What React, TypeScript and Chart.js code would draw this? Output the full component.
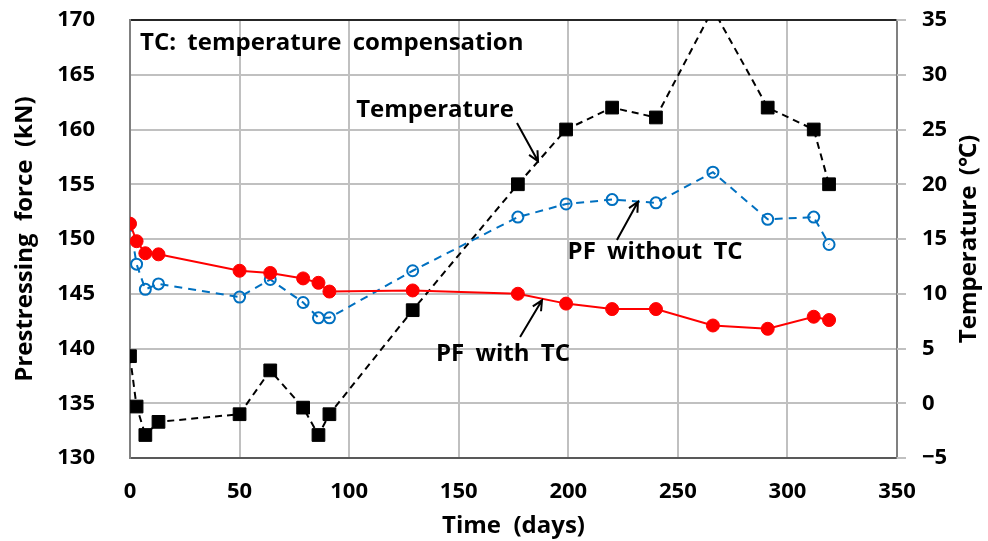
import React, { useEffect, useRef } from 'react';
import { Chart, registerables } from 'chart.js';

Chart.register(...registerables);

// ---- data ----
const days = [0, 3, 7, 13, 50, 64, 79, 86, 91, 129, 177, 199, 220, 240, 266, 291, 312, 319];
const pfWithTC = [151.4, 149.8, 148.7, 148.6, 147.1, 146.9, 146.4, 146.0, 145.2, 145.3, 145.0, 144.1, 143.6, 143.6, 142.1, 141.8, 142.9, 142.6];
const pfWithoutTC = [151.4, 147.7, 145.4, 145.9, 144.7, 146.3, 144.2, 142.8, 142.8, 147.1, 152.0, 153.2, 153.6, 153.3, 156.1, 151.8, 152.0, 149.5];
const temperature = [4.3, -0.3, -2.9, -1.7, -1.0, 3.0, -0.4, -2.9, -1.0, 8.5, 20.0, 25.0, 27.0, 26.1, 36.0, 27.0, 25.0, 20.0];

const xTicks = { min: 0, max: 350, step: 50 };
const yTicks = { min: 130, max: 170, step: 5 };
const y2Ticks = { min: -5, max: 35, step: 5 };

// annotation texts and arrows, in data coordinates (days, kN)
const noteTexts = ['TC: temperature compensation', 'Temperature', 'PF without TC', 'PF with TC'];
const notePos = [
  { x: 4.6, y: 167.9, align: 'left' },
  { x: 139.2, y: 161.8, align: 'center' },
  { x: 239.6, y: 148.8, align: 'center' },
  { x: 170.2, y: 139.5, align: 'center' },
];
const noteArrows = [
  null,
  [176.6, 160.6, 186.2, 157.1],
  [222.2, 149.9, 231.8, 153.4],
  [178.0, 141.05, 188.0, 144.4],
];

const FONT = "'Open Sans', 'Noto Sans', 'Noto Sans CJK KR', sans-serif";

const pts = (ys: number[]) => days.map((d, i) => ({ x: d, y: ys[i] }));

const notesPlugin = {
  id: 'notes',
  afterDraw(chart: any) {
    const { ctx, chartArea } = chart;
    const xs = chart.scales.x;
    const ys = chart.scales.y;
    const ys2 = chart.scales.y2;
    ctx.save();
    // short outer tick marks of the right axis
    ctx.strokeStyle = '#C0C0C0';
    ctx.lineWidth = 2;
    ctx.beginPath();
    ys2.ticks.forEach((t: any) => {
      const py = Math.round(ys2.getPixelForValue(t.value));
      ctx.moveTo(chartArea.right, py);
      ctx.lineTo(chartArea.right + 9, py);
    });
    ctx.stroke();

    ctx.fillStyle = '#000';
    ctx.strokeStyle = '#000';
    ctx.textBaseline = 'middle';
    ctx.font = `bold 24px ${FONT}`;
    (ctx as any).wordSpacing = '5px';
    noteTexts.forEach((t, i) => {
      const p = notePos[i];
      ctx.textAlign = p.align;
      ctx.fillText(t, xs.getPixelForValue(p.x), ys.getPixelForValue(p.y));
      const a = noteArrows[i];
      if (a) {
        const x1 = xs.getPixelForValue(a[0]);
        const y1 = ys.getPixelForValue(a[1]);
        const x2 = xs.getPixelForValue(a[2]);
        const y2 = ys.getPixelForValue(a[3]);
        ctx.lineWidth = 2;
        ctx.beginPath();
        ctx.moveTo(x1, y1);
        ctx.lineTo(x2, y2);
        const ang = Math.atan2(y2 - y1, x2 - x1);
        const L = 11;
        const spread = 0.45;
        ctx.moveTo(x2 - L * Math.cos(ang - spread), y2 - L * Math.sin(ang - spread));
        ctx.lineTo(x2, y2);
        ctx.lineTo(x2 - L * Math.cos(ang + spread), y2 - L * Math.sin(ang + spread));
        ctx.stroke();
      }
    });
    // right axis title, reading bottom-to-top
    ctx.translate(chartArea.right + 72, (chartArea.top + chartArea.bottom) / 2);
    ctx.rotate(-Math.PI / 2);
    ctx.textAlign = 'center';
    ctx.font = `bold 24px ${FONT}`;
    (ctx as any).wordSpacing = '4px';
    ctx.fillText('Temperature (℃)', 0, 0);
    ctx.restore();
  },
};

export default function App() {
  const ref = useRef<HTMLCanvasElement | null>(null);

  useEffect(() => {
    if (!ref.current) return;
    const tickFont = { family: FONT, size: 22, weight: 'bold' as const };
    const titleFont = { family: FONT, size: 24, weight: 'bold' as const };
    const chart = new Chart(ref.current, {
      type: 'line',
      data: {
        datasets: [
          {
            label: 'PF with TC',
            data: pts(pfWithTC),
            yAxisID: 'y',
            borderColor: '#FF0000',
            borderWidth: 2,
            pointStyle: 'circle',
            pointRadius: 6.5,
            pointBackgroundColor: '#FF0000',
            pointBorderColor: '#FF0000',
            pointBorderWidth: 1,
            order: 1,
          },
          {
            label: 'PF without TC',
            data: pts(pfWithoutTC),
            yAxisID: 'y',
            borderColor: '#0070C0',
            borderWidth: 2,
            borderDash: [8, 6],
            pointStyle: 'circle',
            pointRadius: 5.5,
            pointBackgroundColor: 'rgba(0,0,0,0)',
            pointBorderColor: '#0070C0',
            pointBorderWidth: 2,
            order: 2,
          },
          {
            label: 'Temperature',
            data: pts(temperature),
            yAxisID: 'y2',
            borderColor: '#000000',
            borderWidth: 2,
            borderDash: [7, 5],
            pointStyle: 'rect',
            pointRadius: 9,
            pointBackgroundColor: '#000000',
            pointBorderColor: '#000000',
            pointBorderWidth: 1,
            order: 3,
          },
        ],
      },
      options: {
        animation: false,
        responsive: true,
        maintainAspectRatio: false,
        layout: { padding: { top: 20, left: 0, right: 0, bottom: 0 } },
        plugins: { legend: { display: false }, tooltip: { enabled: false } },
        scales: {
          x: {
            type: 'linear',
            min: xTicks.min,
            max: xTicks.max,
            ticks: { stepSize: xTicks.step, font: tickFont, color: '#000', padding: 0, maxRotation: 0 },
            grid: {
              color: (c: any) => (c.tick && c.tick.value === xTicks.max ? '#808080' : '#C0C0C0'),
              lineWidth: 2,
              drawTicks: true,
              tickLength: 21,
              tickColor: 'rgba(0,0,0,0)',
            },
            border: { color: '#595959', width: 2 },
            title: { display: true, text: 'Time  (days)', font: titleFont, color: '#000', padding: { top: 0, bottom: 0 } },
            afterFit: (s: any) => { s.height = 83; },
          },
          y: {
            type: 'linear',
            position: 'left',
            min: yTicks.min,
            max: yTicks.max,
            ticks: { stepSize: yTicks.step, font: tickFont, color: '#000', padding: 0 },
            grid: {
              color: (c: any) => (c.tick && c.tick.value === yTicks.max ? '#262626' : '#C0C0C0'),
              lineWidth: 2,
              drawTicks: true,
              tickLength: 35,
              tickColor: 'rgba(0,0,0,0)',
            },
            border: { color: '#808080', width: 2 },
            title: { display: true, text: 'Prestressing  force  (kN)', font: titleFont, color: '#000', padding: { top: 11, bottom: 0 } },
            afterFit: (s: any) => { s.width = 130; },
          },
          y2: {
            type: 'linear',
            position: 'right',
            min: y2Ticks.min,
            max: y2Ticks.max,
            ticks: {
              stepSize: y2Ticks.step,
              font: tickFont,
              color: '#000',
              padding: 0,
              callback: (v: any) => String(v).replace('-', '−'),
            },
            grid: { drawOnChartArea: false, drawTicks: true, tickLength: 25, tickColor: 'rgba(0,0,0,0)' },
            border: { color: '#808080', width: 2 },
            afterFit: (s: any) => { s.width = 91; },
          },
        },
      },
      plugins: [notesPlugin],
    });
    return () => chart.destroy();
  }, []);

  return (
    <div style={{ position: 'absolute', left: 0, top: 0, width: 988, height: 541 }}>
      <canvas ref={ref} />
    </div>
  );
}
